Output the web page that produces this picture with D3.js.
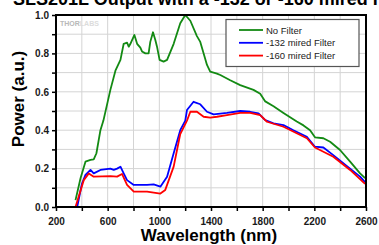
<!DOCTYPE html>
<html><head><meta charset="utf-8">
<script src="https://cdn.jsdelivr.net/npm/d3@7"></script>
<style>body{margin:0;background:#fff}svg{display:block}</style>
</head><body>
<svg id="c" width="379" height="245"></svg>
<script>
const xTicks = [200,400,600,800,1000,1200,1400,1600,1800,2000,2200,2400,2600];
const xTickLabels = ["200","600","1000","1400","1800","2200","2600"];
const yTicks = [0,0.1,0.2,0.3,0.4,0.5,0.6,0.7,0.8,0.9,1.0];
const yTickLabels = ["0.0","0.2","0.4","0.6","0.8","1.0"];
const seriesNames = ["No Filter","-132 mired Filter","-160 mired Filter"];
const seriesColors = ["#138a13","#0000ff","#ff0000"];

const noFilterNm = [351,390,428,467,492,513,544,567,621,660,699,724,750,763,776,807,828,853,866,892,917,930,951,969,982,1002,1033,1060,1111,1162,1201,1240,1291,1317,1343,1369,1394,1446,1472,1549,1626,1729,1781,1820,1884,1961,2064,2116,2167,2205,2270,2322,2399,2477,2554,2593];
const noFilterPow = [0.036,0.15,0.236,0.245,0.248,0.28,0.40,0.45,0.61,0.71,0.766,0.85,0.856,0.835,0.85,0.896,0.85,0.83,0.81,0.80,0.80,0.86,0.91,0.87,0.835,0.766,0.757,0.766,0.85,0.957,1.0,0.97,0.89,0.86,0.80,0.74,0.705,0.695,0.6875,0.66,0.635,0.61,0.59,0.55,0.525,0.49,0.445,0.425,0.40,0.363,0.358,0.34,0.297,0.236,0.175,0.15];

const m132Nm = [364,400,428,467,492,544,621,647,673,699,724,750,802,853,905,956,1008,1060,1111,1162,1201,1214,1265,1317,1369,1420,1523,1626,1703,1768,1820,1884,1961,2038,2142,2205,2270,2347,2477,2554,2593];
const m132Pow = [0,0.12,0.167,0.193,0.175,0.193,0.20,0.193,0.20,0.21,0.175,0.14,0.115,0.115,0.115,0.118,0.106,0.158,0.28,0.40,0.45,0.505,0.548,0.535,0.496,0.482,0.49,0.50,0.496,0.488,0.453,0.436,0.427,0.40,0.366,0.314,0.31,0.27,0.20,0.158,0.13];

const m160Nm = [351,415,454,492,621,673,711,750,802,905,1008,1046,1111,1162,1214,1240,1291,1343,1394,1446,1523,1626,1703,1781,1833,1961,2142,2205,2347,2477,2593];
const m160Pow = [0,0.14,0.175,0.158,0.161,0.158,0.172,0.115,0.08,0.08,0.07,0.089,0.21,0.38,0.45,0.496,0.496,0.47,0.465,0.47,0.479,0.49,0.49,0.479,0.444,0.418,0.358,0.31,0.262,0.193,0.12];

const svg = d3.select("#c");
const L=56,R=366,T=15,B=207;
const x = d3.scaleLinear().domain([200,2600]).range([L,R]);
const y = d3.scaleLinear().domain([0,1]).range([B,T]);

// title
svg.append("text").attr("x",13).attr("y",5).attr("font-family","Liberation Sans, Arial, sans-serif")
  .attr("font-weight","bold").attr("font-size",18).attr("fill","#000")
  .text("SLS201L Output with a -132 or -160 mired Filter");

// grid
const g = svg.append("g");
g.selectAll(".vg").data(xTicks.slice(1,-1)).enter().append("line")
  .attr("x1",d=>x(d)).attr("x2",d=>x(d)).attr("y1",T).attr("y2",B)
  .attr("stroke","#d4d4d4").attr("stroke-width",1);
g.selectAll(".hg").data(yTicks.slice(1,-1)).enter().append("line")
  .attr("y1",d=>y(d)).attr("y2",d=>y(d)).attr("x1",L).attr("x2",R)
  .attr("stroke","#d4d4d4").attr("stroke-width",1);

// logo
const logo = svg.append("text").attr("x",L+4).attr("y",T+11).attr("font-family","Liberation Sans, Arial, sans-serif")
  .attr("font-weight","bold").attr("font-size",7);
logo.append("tspan").attr("fill","#b8b8b8").text("THOR");
logo.append("tspan").attr("fill","#dcdcdc").text("LABS");

// lines
const series = [[noFilterNm,noFilterPow],[m132Nm,m132Pow],[m160Nm,m160Pow]];
const line = d3.line().x(d=>x(d[0])).y(d=>y(d[1]));
series.forEach((s,i)=>{
  const pts = s[0].map((v,j)=>[v,s[1][j]]);
  svg.append("path").attr("d",line(pts)).attr("fill","none")
    .attr("stroke",seriesColors[i]).attr("stroke-width",1.8).attr("stroke-linejoin","round");
});

// axes
const xAxis = d3.axisBottom(x).tickValues(xTicks).tickSize(4)
  .tickFormat(d=>xTickLabels.includes(String(d))?String(d):"");
const ax = svg.append("g").attr("transform",`translate(0,${B})`).call(xAxis);
ax.select(".domain").remove();
ax.selectAll("line").attr("stroke","#000").attr("stroke-width",1.5);
ax.selectAll("text").attr("font-family","Liberation Sans, Arial, sans-serif").attr("font-weight","bold")
  .attr("font-size",10).attr("fill","#1a1a1a").attr("dy","1.1em");

const yAxis = d3.axisLeft(y).tickValues(yTicks).tickSize(4)
  .tickFormat(d=>{const s=d.toFixed(1);return yTickLabels.includes(s)?s:"";});
const ay = svg.append("g").attr("transform",`translate(${L},0)`).call(yAxis);
ay.select(".domain").remove();
ay.selectAll("line").attr("stroke","#000").attr("stroke-width",1.5);
ay.selectAll("text").attr("font-family","Liberation Sans, Arial, sans-serif").attr("font-weight","bold")
  .attr("font-size",10).attr("fill","#1a1a1a").attr("x",-7);

// frame
svg.append("rect").attr("x",L).attr("y",T).attr("width",R-L).attr("height",B-T)
  .attr("fill","none").attr("stroke","#000").attr("stroke-width",2);

// axis titles
svg.append("text").attr("x",(L+R)/2-2).attr("y",241).attr("text-anchor","middle")
  .attr("font-family","Liberation Sans, Arial, sans-serif").attr("font-weight","bold").attr("font-size",17)
  .text("Wavelength (nm)");
svg.append("text").attr("transform","translate(24,99) rotate(-90)").attr("text-anchor","middle")
  .attr("font-family","Liberation Sans, Arial, sans-serif").attr("font-weight","bold").attr("font-size",17)
  .text("Power (a.u.)");

// legend
const lg = svg.append("g");
lg.append("rect").attr("x",226).attr("y",19.5).attr("width",133).attr("height",47)
  .attr("fill","#fff").attr("stroke","#555").attr("stroke-width",1.2);
seriesNames.forEach((n,i)=>{
  const yy = 30 + i*12.8;
  lg.append("line").attr("x1",239).attr("x2",263).attr("y1",yy).attr("y2",yy)
    .attr("stroke",seriesColors[i]).attr("stroke-width",1.8);
  lg.append("text").attr("x",266).attr("y",yy+3.5).attr("font-family","Liberation Sans, Arial, sans-serif")
    .attr("font-size",9.5).attr("fill","#222").text(n);
});
</script>
</body></html>
